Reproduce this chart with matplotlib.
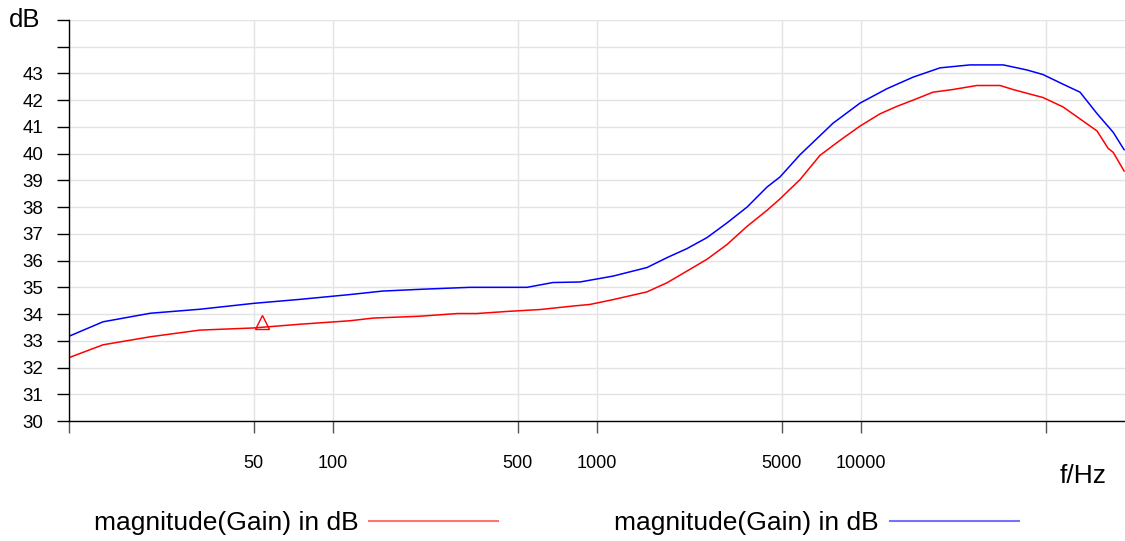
import matplotlib
matplotlib.use("Agg")
import matplotlib.pyplot as plt
from matplotlib.ticker import FixedLocator, FixedFormatter, NullLocator

plt.rcParams["font.family"] = ["Liberation Sans", "DejaVu Sans"]

# frequency response readings (Hz, dB)
red_freq = [10, 13.45, 20.3, 31.3, 50, 75, 116, 142, 214, 296, 350, 460, 610,
            811, 940, 1150, 1546, 1841, 2193, 2610, 3107, 3700, 4404, 4935,
            5875, 6998, 8330, 9910, 11800, 13680, 15730, 18740, 22300, 27480,
            33630, 37640, 48890, 58210, 67560, 78330, 86300, 90200, 99200]
red_db = [32.37, 32.85, 33.15, 33.4, 33.48, 33.62, 33.75, 33.85, 33.92, 34.02,
          34.02, 34.1, 34.17, 34.3, 34.36, 34.54, 34.83, 35.17, 35.61, 36.05,
          36.6, 37.28, 37.88, 38.31, 39.03, 39.94, 40.5, 41.03, 41.49, 41.77,
          42.0, 42.3, 42.4, 42.55, 42.55, 42.4, 42.1, 41.75, 41.3, 40.85,
          40.2, 40.05, 39.35]

blue_freq = [10, 13.45, 20.3, 31.3, 50, 75, 116, 154, 219, 330, 543, 681, 862,
             1150, 1546, 1841, 2193, 2610, 3107, 3700, 4404, 4935, 5875, 6230,
             7837, 9910, 12540, 15730, 19920, 25860, 34600, 42560, 48890,
             58210, 67560, 78330, 90200, 99200]
blue_db = [33.17, 33.71, 34.03, 34.18, 34.4, 34.55, 34.73, 34.86, 34.93, 35.0,
           35.0, 35.18, 35.2, 35.42, 35.74, 36.11, 36.45, 36.86, 37.41, 38.0,
           38.75, 39.13, 39.96, 40.2, 41.14, 41.89, 42.43, 42.86, 43.21, 43.32,
           43.32, 43.13, 42.96, 42.6, 42.3, 41.5, 40.8, 40.15]

marker_freq = [54]
marker_db = [33.7]

x_ticks = [10, 50, 100, 500, 1000, 5000, 10000, 50000]
x_labels = ["", "50", "100", "500", "1000", "5000", "10000", ""]
y_ticks = list(range(30, 46))
y_labels = [str(v) if v <= 43 else "" for v in y_ticks]
series_label = "magnitude(Gain) in dB"

fig = plt.figure(figsize=(11.25, 5.41), dpi=100)
ax = fig.add_axes([69 / 1125, 120 / 541, 1056 / 1125, 401 / 541])

ax.plot(red_freq, red_db, color="#ff0000", lw=1.1, label=series_label)
ax.plot(blue_freq, blue_db, color="#0000ff", lw=1.1, label=series_label)
ax.plot(marker_freq, marker_db, ls="none", marker="^", ms=10.5, mfc="none",
        mec="#ff0000", mew=1.0)

ax.set_xscale("log")
ax.set_xlim(10, 100000)
ax.set_ylim(30, 45)
ax.xaxis.set_major_locator(FixedLocator(x_ticks))
ax.xaxis.set_major_formatter(FixedFormatter(x_labels))
ax.xaxis.set_minor_locator(NullLocator())
ax.yaxis.set_major_locator(FixedLocator(y_ticks))
ax.yaxis.set_major_formatter(FixedFormatter(y_labels))

ax.grid(True, color="#e3e3e3", lw=1.0)
ax.set_axisbelow(True)
for side in ("top", "right"):
    ax.spines[side].set_visible(False)
for side in ("left", "bottom"):
    ax.spines[side].set_color("black")
    ax.spines[side].set_linewidth(1.0)

ax.tick_params(axis="y", length=8.6, width=1, pad=10, labelsize=13.5,
               color="black")
ax.tick_params(axis="x", length=8.6, width=1, pad=16, labelsize=13,
               color="#555555")

fig.text(25 / 1125, 1 - 20 / 541, "dB", fontsize=18.5, ha="center",
         va="center")
fig.text(1083 / 1125, 1 - 476 / 541, "f/Hz", fontsize=19, ha="center",
         va="center")

leg = fig.legend(loc="center left", bbox_to_anchor=(70 / 1125, 1 - 523 / 541),
                 ncol=2, frameon=False, fontsize=19, markerfirst=False,
                 handlelength=4.9, handletextpad=0.4, columnspacing=4.4)
for line in leg.get_lines():
    line.set_alpha(0.55)
    line.set_linewidth(1.5)

fig.savefig("out.png", dpi=100)
